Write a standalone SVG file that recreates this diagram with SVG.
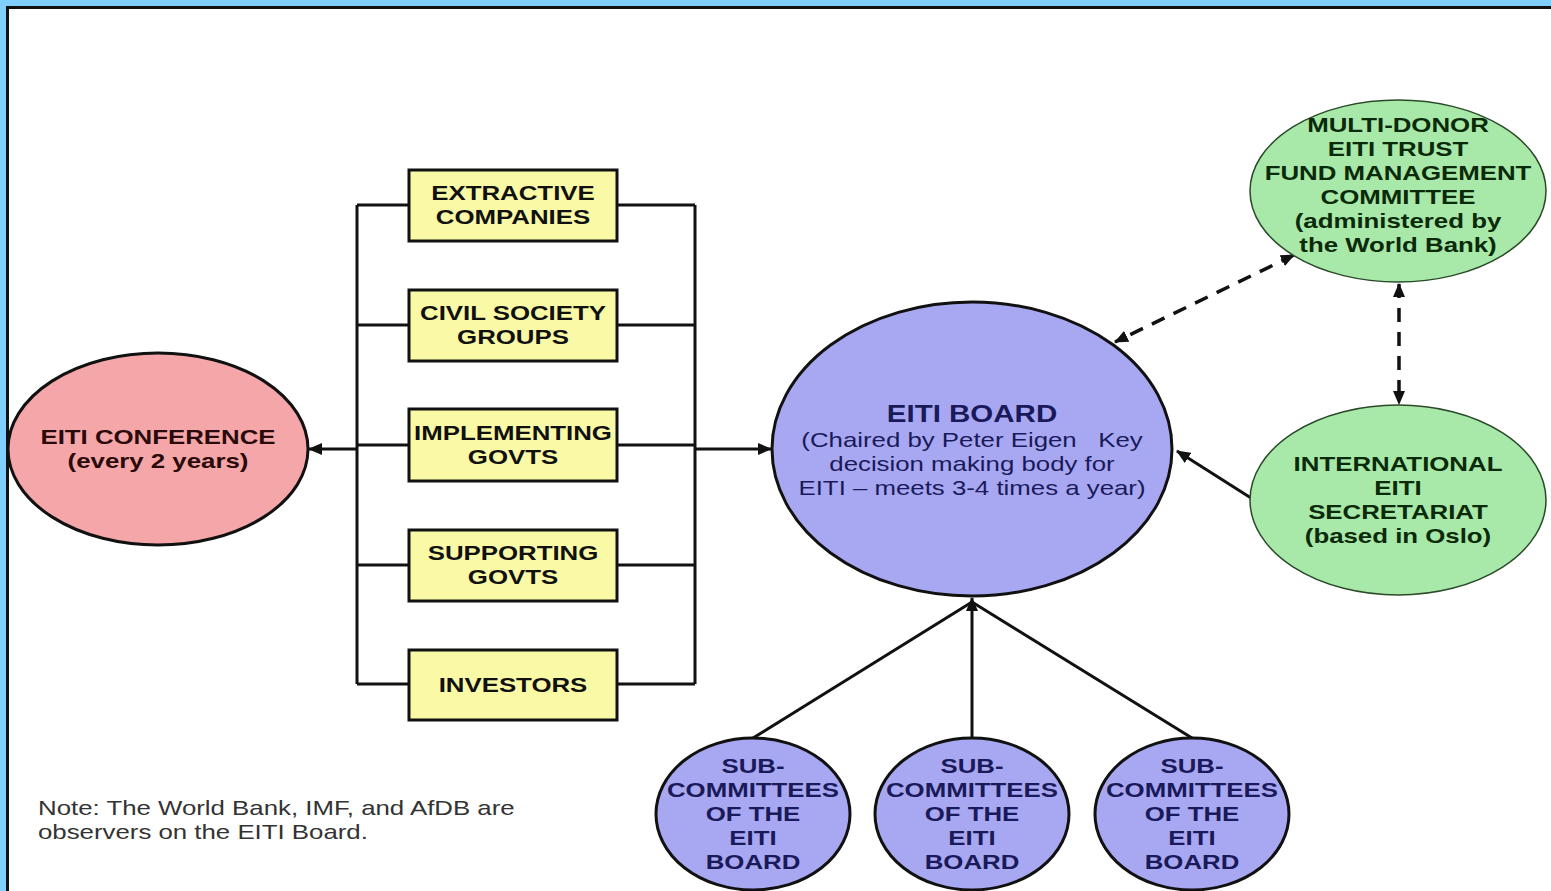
<svg xmlns="http://www.w3.org/2000/svg" width="1551" height="891" viewBox="0 0 1551 891">
<style>
.b{font-family:"Liberation Sans",Arial,sans-serif;font-weight:bold;font-size:21px;text-anchor:middle}
.r{font-family:"Liberation Sans",Arial,sans-serif;font-size:21px;text-anchor:middle}
.box{fill:#FAFAA6;stroke:#111;stroke-width:3}
.ln{stroke:#111;stroke-width:3;fill:none}
.dash{stroke:#111;stroke-width:3.5;fill:none;stroke-dasharray:14 10}
.blue{fill:#A8A8F2;stroke:#111;stroke-width:3}
.green{fill:#A8E8A8;stroke:#2A4A2A;stroke-width:1.5}
</style>
<defs>
<marker id="ah" viewBox="0 0 14 12" refX="13" refY="6" markerWidth="14" markerHeight="12" markerUnits="userSpaceOnUse" orient="auto-start-reverse">
<path d="M0,0 L14,6 L0,12 Z" fill="#111"/>
</marker>
</defs>
<rect x="0" y="0" width="1551" height="891" fill="#80D0FF"/>
<rect x="8" y="8" width="1543" height="883" fill="#FFFFFF"/>
<path d="M7.5,891 V7.5 H1551" stroke="#111" stroke-width="3" fill="none"/>

<g id="connectors">
<path class="ln" d="M357,205 V684 M695,205 V684"/>
<path class="ln" d="M357,205 H409 M357,325 H409 M357,445 H409 M357,565 H409 M357,684 H409"/>
<path class="ln" d="M617,205 H695 M617,325 H695 M617,445 H695 M617,565 H695 M617,684 H695"/>
<line class="ln" x1="357" y1="449" x2="309" y2="449" marker-end="url(#ah)"/>
<line class="ln" x1="695" y1="449" x2="771" y2="449" marker-end="url(#ah)"/>
<line class="dash" x1="1294" y1="255" x2="1115" y2="342" marker-start="url(#ah)" marker-end="url(#ah)"/>
<line class="dash" x1="1399" y1="284" x2="1399" y2="404" marker-start="url(#ah)" marker-end="url(#ah)"/>
<line class="ln" x1="1251" y1="498" x2="1177" y2="451" marker-end="url(#ah)"/>
<line class="ln" x1="753" y1="738" x2="972" y2="602"/>
<line class="ln" x1="1192" y1="738" x2="972" y2="602"/>
<line class="ln" x1="972" y1="738" x2="972" y2="598" marker-end="url(#ah)"/>
</g>

<g id="conference">
<ellipse cx="158" cy="449" rx="150" ry="96" fill="#F4A6A8" stroke="#111" stroke-width="3"/>
<g transform="translate(158,0) scale(1.23,1)" fill="#2A0A0A">
<text class="b" x="0" y="444">EITI CONFERENCE</text>
<text class="b" x="0" y="468">(every 2 years)</text>
</g>
</g>

<g id="extractive">
<rect class="box" x="409" y="170" width="208" height="71"/>
<g transform="translate(513,0) scale(1.23,1)" fill="#111">
<text class="b" x="0" y="200">EXTRACTIVE</text>
<text class="b" x="0" y="224">COMPANIES</text>
</g>
</g>
<g id="civil">
<rect class="box" x="409" y="290" width="208" height="71"/>
<g transform="translate(513,0) scale(1.23,1)" fill="#111">
<text class="b" x="0" y="320">CIVIL SOCIETY</text>
<text class="b" x="0" y="344">GROUPS</text>
</g>
</g>
<g id="implementing">
<rect class="box" x="409" y="409" width="208" height="72"/>
<g transform="translate(513,0) scale(1.23,1)" fill="#111">
<text class="b" x="0" y="440">IMPLEMENTING</text>
<text class="b" x="0" y="464">GOVTS</text>
</g>
</g>
<g id="supporting">
<rect class="box" x="409" y="530" width="208" height="71"/>
<g transform="translate(513,0) scale(1.23,1)" fill="#111">
<text class="b" x="0" y="560">SUPPORTING</text>
<text class="b" x="0" y="584">GOVTS</text>
</g>
</g>
<g id="investors">
<rect class="box" x="409" y="650" width="208" height="70"/>
<g transform="translate(513,0) scale(1.23,1)" fill="#111">
<text class="b" x="0" y="692">INVESTORS</text>
</g>
</g>

<g id="board">
<ellipse class="blue" cx="972" cy="449" rx="200" ry="147"/>
<g transform="translate(972,0) scale(1.23,1)" fill="#1A1A5A">
<text class="b" x="0" y="422" style="font-size:24px">EITI BOARD</text>
<text class="r" x="0" y="447" xml:space="preserve">(Chaired by Peter Eigen   Key</text>
<text class="r" x="0" y="471">decision making body for</text>
<text class="r" x="0" y="495">EITI – meets 3-4 times a year)</text>
</g>
</g>

<g id="trustfund">
<ellipse class="green" cx="1398" cy="191" rx="148" ry="91"/>
<g transform="translate(1398,0) scale(1.23,1)" fill="#0A2A0A">
<text class="b" x="0" y="132">MULTI-DONOR</text>
<text class="b" x="0" y="156">EITI TRUST</text>
<text class="b" x="0" y="180">FUND MANAGEMENT</text>
<text class="b" x="0" y="204">COMMITTEE</text>
<text class="b" x="0" y="228">(administered by</text>
<text class="b" x="0" y="252">the World Bank)</text>
</g>
</g>

<g id="secretariat">
<ellipse class="green" cx="1398" cy="500" rx="148" ry="95"/>
<g transform="translate(1398,0) scale(1.23,1)" fill="#0A2A0A">
<text class="b" x="0" y="471">INTERNATIONAL</text>
<text class="b" x="0" y="495">EITI</text>
<text class="b" x="0" y="519">SECRETARIAT</text>
<text class="b" x="0" y="543">(based in Oslo)</text>
</g>
</g>

<g id="sub1">
<ellipse class="blue" cx="753" cy="814" rx="97" ry="76"/>
<g transform="translate(753,0) scale(1.23,1)" fill="#1A1A5A">
<text class="b" x="0" y="773">SUB-</text>
<text class="b" x="0" y="797">COMMITTEES</text>
<text class="b" x="0" y="821">OF THE</text>
<text class="b" x="0" y="845">EITI</text>
<text class="b" x="0" y="869">BOARD</text>
</g>
</g>
<g id="sub2">
<ellipse class="blue" cx="972" cy="814" rx="97" ry="76"/>
<g transform="translate(972,0) scale(1.23,1)" fill="#1A1A5A">
<text class="b" x="0" y="773">SUB-</text>
<text class="b" x="0" y="797">COMMITTEES</text>
<text class="b" x="0" y="821">OF THE</text>
<text class="b" x="0" y="845">EITI</text>
<text class="b" x="0" y="869">BOARD</text>
</g>
</g>
<g id="sub3">
<ellipse class="blue" cx="1192" cy="814" rx="97" ry="76"/>
<g transform="translate(1192,0) scale(1.23,1)" fill="#1A1A5A">
<text class="b" x="0" y="773">SUB-</text>
<text class="b" x="0" y="797">COMMITTEES</text>
<text class="b" x="0" y="821">OF THE</text>
<text class="b" x="0" y="845">EITI</text>
<text class="b" x="0" y="869">BOARD</text>
</g>
</g>

<g id="note" transform="translate(38,0) scale(1.23,1)" fill="#333">
<text class="r" x="0" y="815" style="text-anchor:start">Note: The World Bank, IMF, and AfDB are</text>
<text class="r" x="0" y="839" style="text-anchor:start">observers on the EITI Board.</text>
</g>
</svg>
